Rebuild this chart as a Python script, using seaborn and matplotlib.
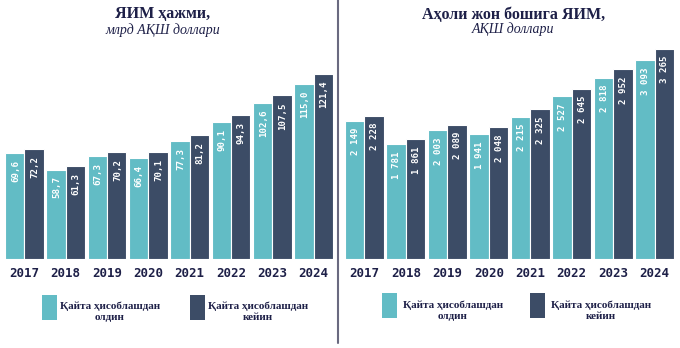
import matplotlib
matplotlib.use("Agg")
import matplotlib.pyplot as plt
import seaborn as sns
import pandas as pd
from matplotlib.patches import Rectangle
from matplotlib.lines import Line2D

years = ["2017", "2018", "2019", "2020", "2021", "2022", "2023", "2024"]
series_names = ["Қайта ҳисоблашдан\nолдин", "Қайта ҳисоблашдан\nкейин"]
gdp_before = [69.6, 58.7, 67.3, 66.4, 77.3, 90.1, 102.6, 115.0]
gdp_after = [72.2, 61.3, 70.2, 70.1, 81.2, 94.3, 107.5, 121.4]
pc_before = [2149, 1781, 2003, 1941, 2215, 2527, 2818, 3093]
pc_after = [2228, 1861, 2089, 2048, 2325, 2645, 2952, 3265]

LIGHT = "#62BCC5"
DARK = "#3C4C66"
NAVY = "#1E2048"
SERIF = "Liberation Serif"

sns.set_theme(style="white")
plt.rcParams["font.family"] = ["DejaVu Sans"]

W, H = 680, 348
fig = plt.figure(figsize=(W / 100, H / 100), dpi=100)


def px_axes(x0, x1, ytop, ybot):
    return fig.add_axes([x0 / W, 1 - ybot / H, (x1 - x0) / W, (ybot - ytop) / H])


def fmt_gdp(v):
    return f"{v:.1f}".replace(".", ",")


def fmt_pc(v):
    return f"{int(round(v)):,}".replace(",", " ")


def draw(ax, before, after, fmt, ytop_val):
    df = pd.DataFrame({
        "year": years * 2,
        "value": before + after,
        "series": [series_names[0]] * len(years) + [series_names[1]] * len(years),
    })
    sns.barplot(data=df, x="year", y="value", hue="series", order=years,
                hue_order=series_names, palette=[LIGHT, DARK], width=0.94,
                ax=ax, edgecolor="white", linewidth=0.8, legend=False,
                errorbar=None, saturation=1)
    ax.set_xlim(-0.47, 7.47)
    ax.set_ylim(0, ytop_val)
    for cont in ax.containers:
        for bar, dv in zip(cont.patches, cont.datavalues):
            x = bar.get_x() + bar.get_width() / 2
            h = bar.get_height()
            ax.annotate(fmt(dv), (x, h), xytext=(0.5, -5), textcoords="offset points",
                        rotation=90, ha="center", va="top", color="white",
                        fontsize=6.6, fontweight="bold", family="DejaVu Sans Mono")
    ax.set_xlabel("")
    ax.set_ylabel("")
    ax.set_yticks([])
    for s in ax.spines.values():
        s.set_visible(False)
    ax.tick_params(axis="x", length=0, pad=6)
    for lab in ax.get_xticklabels():
        lab.set_fontfamily("DejaVu Sans Mono")
        lab.set_fontweight("bold")
        lab.set_fontsize(9)
        lab.set_color(NAVY)


axL = px_axes(5, 333, 40, 259)
draw(axL, gdp_before, gdp_after, fmt_gdp, 121.4 * 219 / 185)
axR = px_axes(345, 674, 40, 259)
draw(axR, pc_before, pc_after, fmt_pc, 3265 * 219 / 210)

# titles
fig.text(163 / W, 1 - 14 / H, "ЯИМ ҳажми,", ha="center", va="center",
         fontsize=11.5, fontweight="bold", family=SERIF, color=NAVY)
fig.text(163 / W, 1 - 30 / H, "млрд АҚШ доллари", ha="center", va="center",
         fontsize=10, style="italic", family=SERIF, color=NAVY)
fig.text(514 / W, 1 - 15 / H, "Аҳоли жон бошига ЯИМ,", ha="center", va="center",
         fontsize=11.5, fontweight="bold", family=SERIF, color=NAVY)
fig.text(513 / W, 1 - 29 / H, "АҚШ доллари", ha="center", va="center",
         fontsize=10, style="italic", family=SERIF, color=NAVY)

# divider
fig.add_artist(Line2D([338 / W, 338 / W], [1, 1 - 343 / H], transform=fig.transFigure,
                      color="#6A6A80", linewidth=1.5))


def legend_item(x0, y0, color, text, tx, ty):
    fig.add_artist(Rectangle((x0 / W, 1 - (y0 + 25) / H), 15 / W, 25 / H,
                             transform=fig.transFigure, facecolor=color, edgecolor="none"))
    fig.text(tx / W, 1 - ty / H, text, ha="center", va="center",
             fontsize=8, fontweight="bold", family=SERIF, color=NAVY,
             linespacing=1.3)


legend_item(42, 295, LIGHT, series_names[0], 110, 312)
legend_item(190, 295, DARK, series_names[1], 258, 312)
legend_item(382, 293, LIGHT, series_names[0], 453, 311)
legend_item(530, 293, DARK, series_names[1], 601, 311)

fig.savefig("out.png", dpi=100)
